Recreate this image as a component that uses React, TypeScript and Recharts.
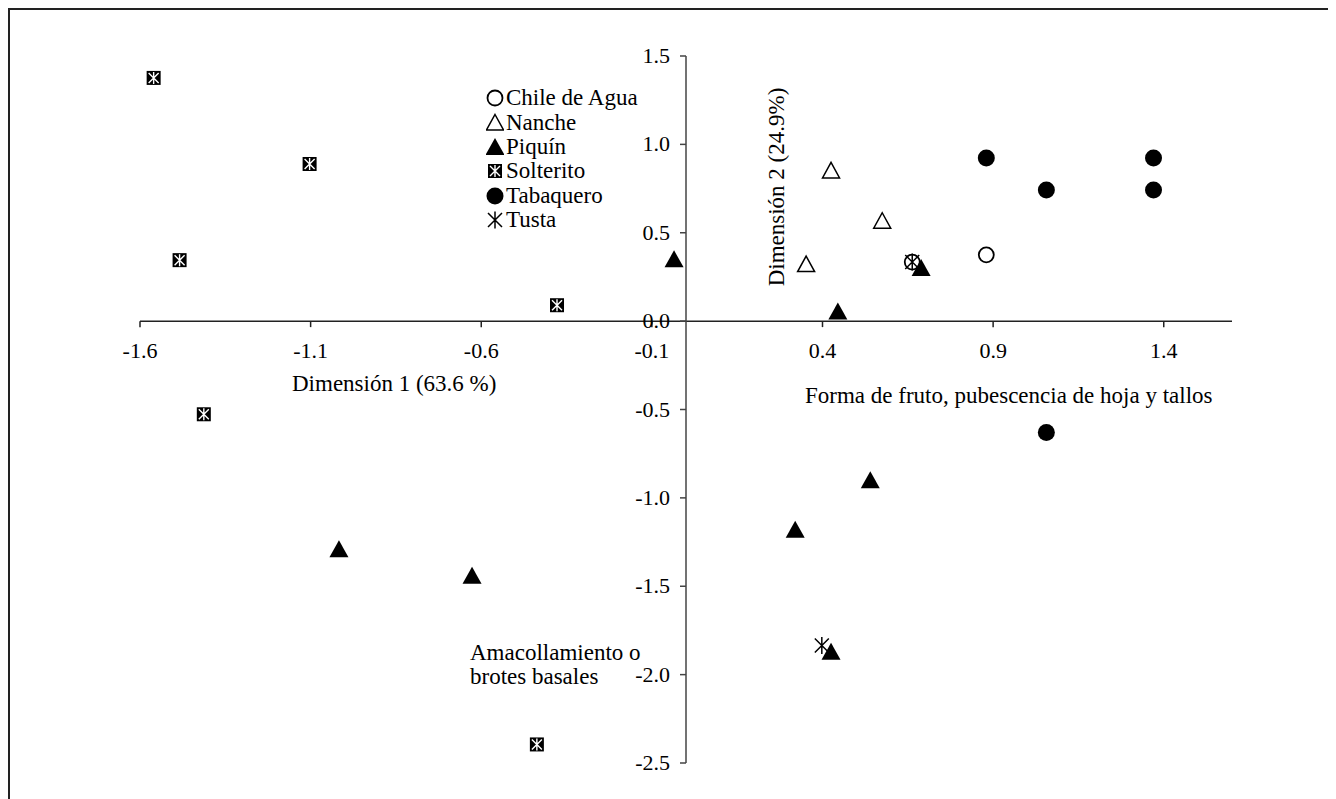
import React from 'react';
import { ScatterChart, Scatter, XAxis, YAxis, ReferenceLine, Legend } from 'recharts';

// Axis ticks
const xTicks = [-1.6, -1.1, -0.6, -0.1, 0.4, 0.9, 1.4];
const xTickLabels = ['-1.6', '-1.1', '-0.6', '-0.1', '0.4', '0.9', '1.4'];
const yTicks = [1.5, 1.0, 0.5, 0.0, -0.5, -1.0, -1.5, -2.0, -2.5];
const yTickLabels = ['1.5', '1.0', '0.5', '0.0', '-0.5', '-1.0', '-1.5', '-2.0', '-2.5'];

// Series names
const seriesNames = ['Chile de Agua', 'Nanche', 'Piquín', 'Solterito', 'Tabaquero', 'Tusta'];

// Series values (Dimensión 1, Dimensión 2)
const chileDeAgua = [
  { x: 0.88, y: 0.375 },
  { x: 0.663, y: 0.334 },
];
const nanche = [
  { x: 0.425, y: 0.85 },
  { x: 0.352, y: 0.32 },
  { x: 0.575, y: 0.565 },
];
const piquin = [
  { x: -0.035, y: 0.35 },
  { x: 0.445, y: 0.055 },
  { x: 0.689, y: 0.3 },
  { x: 0.32, y: -1.18 },
  { x: 0.54, y: -0.9 },
  { x: -1.017, y: -1.29 },
  { x: -0.627, y: -1.44 },
  { x: 0.425, y: -1.87 },
];
const solterito = [
  { x: -1.56, y: 1.376 },
  { x: -1.103, y: 0.889 },
  { x: -1.484, y: 0.345 },
  { x: -0.378, y: 0.09 },
  { x: -1.413, y: -0.527 },
  { x: -0.437, y: -2.395 },
];
const tabaquero = [
  { x: 0.88, y: 0.923 },
  { x: 1.37, y: 0.923 },
  { x: 1.056, y: 0.742 },
  { x: 1.37, y: 0.742 },
  { x: 1.056, y: -0.63 },
];
const tusta = [
  { x: 0.663, y: 0.334 },
  { x: 0.398, y: -1.835 },
];

const FONT = '"Liberation Serif", "Times New Roman", serif';
const TICK_FONT_SIZE = 22;
const TEXT_FONT_SIZE = 23;

type P = { cx?: number; cy?: number; payload?: any };

const drawMarker = (kind: number, cx: number, cy: number) => {
  switch (kind) {
    case 0:
      return <circle cx={cx} cy={cy} r={7.5} fill="#fff" stroke="#000" strokeWidth={1.8} />;
    case 1:
      return (
        <path
          d={`M${cx},${cy - 8.5} L${cx + 8.5},${cy + 7} L${cx - 8.5},${cy + 7} Z`}
          fill="#fff"
          stroke="#000"
          strokeWidth={1.5}
        />
      );
    case 2:
      return <path d={`M${cx},${cy - 9} L${cx + 9.5},${cy + 8} L${cx - 9.5},${cy + 8} Z`} fill="#000" />;
    case 3:
      return (
        <g>
          <rect x={cx - 7} y={cy - 7} width={14} height={14} fill="#000" />
          <path
            d={`M${cx - 5},${cy - 5} L${cx + 5},${cy + 5} M${cx + 5},${cy - 5} L${cx - 5},${cy + 5} M${cx},${cy - 6} L${cx},${cy + 6}`}
            stroke="#fff"
            strokeWidth={1.4}
          />
        </g>
      );
    case 4:
      return <circle cx={cx} cy={cy} r={8.5} fill="#000" />;
    default:
      return (
        <path
          d={`M${cx - 7},${cy - 7} L${cx + 7},${cy + 7} M${cx + 7},${cy - 7} L${cx - 7},${cy + 7} M${cx},${cy - 8.5} L${cx},${cy + 8.5}`}
          stroke="#000"
          strokeWidth={1.5}
          fill="none"
        />
      );
  }
};

const makeShape = (kind: number) => (props: P) => {
  const { cx = 0, cy = 0 } = props;
  return drawMarker(kind, cx, cy);
};

const XTickShape = (props: P) => {
  const { cx = 0, cy = 0, payload } = props;
  return (
    <g>
      <line x1={cx} y1={cy} x2={cx} y2={cy + 6} stroke="#222" strokeWidth={1.5} />
      <text x={cx} y={cy + 37} textAnchor="middle" fontFamily={FONT} fontSize={TICK_FONT_SIZE} fill="#000">
        {payload?.label}
      </text>
    </g>
  );
};

const YTickShape = (props: P) => {
  const { cx = 0, cy = 0, payload } = props;
  return (
    <g>
      <line x1={cx - 6} y1={cy} x2={cx} y2={cy} stroke="#444" strokeWidth={1.5} />
      <text x={cx - 16} y={cy + 7} textAnchor="end" fontFamily={FONT} fontSize={TICK_FONT_SIZE} fill="#000">
        {payload?.label}
      </text>
    </g>
  );
};

const xTickData = xTicks.map((v, i) => ({ x: v, y: 0, label: xTickLabels[i] }));
const yTickData = yTicks.map((v, i) => ({ x: 0, y: v, label: yTickLabels[i] }));

const LegendContent = () => (
  <div style={{ fontFamily: FONT, fontSize: TEXT_FONT_SIZE, color: '#000' }}>
    {seriesNames.map((name, i) => (
      <div key={name} style={{ display: 'flex', alignItems: 'center', height: 24.4 }}>
        <svg width={18} height={20} style={{ marginRight: 2, flex: 'none' }}>
          {drawMarker(i, 9, 10)}
        </svg>
        <span style={{ lineHeight: '24px', whiteSpace: 'nowrap' }}>{name}</span>
      </div>
    ))}
  </div>
);

export default function App() {
  const W = 1326;
  const H = 789;
  return (
    <div
      style={{
        position: 'relative',
        width: W,
        height: H,
        borderTop: '2px solid #222',
        borderLeft: '2px solid #222',
        background: '#fff',
      }}
    >
      <ScatterChart width={W} height={H} margin={{ top: 46, right: 104, bottom: 36, left: 130 }}>
        <XAxis type="number" dataKey="x" domain={[-1.6, 1.6]} ticks={xTicks} hide />
        <YAxis type="number" dataKey="y" domain={[-2.5, 1.5]} ticks={yTicks} hide />
        <ReferenceLine y={0} stroke="#222" strokeWidth={1.5} ifOverflow="extendDomain" />
        <ReferenceLine x={0} stroke="#444" strokeWidth={1.5} ifOverflow="extendDomain" />
        <Scatter name="xticks" data={xTickData} shape={XTickShape} isAnimationActive={false} legendType="none" />
        <Scatter name="yticks" data={yTickData} shape={YTickShape} isAnimationActive={false} legendType="none" />
        <Scatter name={seriesNames[3]} data={solterito} shape={makeShape(3)} isAnimationActive={false} />
        <Scatter name={seriesNames[0]} data={chileDeAgua} shape={makeShape(0)} isAnimationActive={false} />
        <Scatter name={seriesNames[1]} data={nanche} shape={makeShape(1)} isAnimationActive={false} />
        <Scatter name={seriesNames[4]} data={tabaquero} shape={makeShape(4)} isAnimationActive={false} />
        <Scatter name={seriesNames[5]} data={tusta} shape={makeShape(5)} isAnimationActive={false} />
        <Scatter name={seriesNames[2]} data={piquin} shape={makeShape(2)} isAnimationActive={false} />
        <Legend
          layout="vertical"
          align="center"
          verticalAlign="middle"
          content={<LegendContent />}
          wrapperStyle={{ position: 'absolute', left: 476, top: 76, width: 220, height: 150 }}
        />
      </ScatterChart>
      <svg
        width={W}
        height={H}
        style={{ position: 'absolute', left: 0, top: 0, pointerEvents: 'none' }}
        fontFamily={FONT}
        fontSize={TEXT_FONT_SIZE}
      >
        <text x={282} y={381}>Dimensión 1 (63.6 %)</text>
        <text x={766} y={177} transform="rotate(-90 766 177)" textAnchor="middle" dominantBaseline="central">
          Dimensión 2 (24.9%)
        </text>
        <text x={795} y={393}>Forma de fruto, pubescencia de hoja y tallos</text>
        <text x={460} y={650}>Amacollamiento o</text>
        <text x={460} y={674}>brotes basales</text>
      </svg>
    </div>
  );
}
